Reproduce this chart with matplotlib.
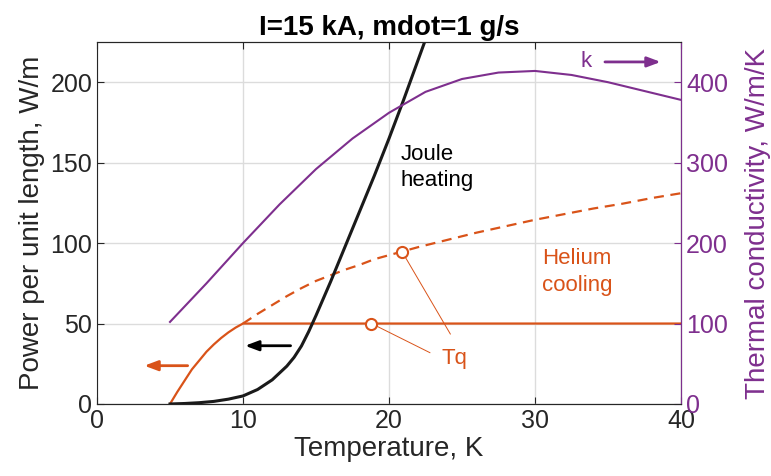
import matplotlib.pyplot as plt

plt.rcParams['font.family'] = ['Liberation Sans', 'DejaVu Sans']

# Joule heating, W/m
joule_T = [5, 6, 7, 8, 9, 10, 11, 12, 13, 13.5, 14, 14.5, 15, 16, 17, 18, 19, 20, 21, 22, 22.4]
joule_P = [0, 0.3, 0.8, 1.6, 3, 5, 9, 15, 23.5, 29, 36, 45, 55, 76, 98, 120, 142, 165, 189, 214, 224]

# helium cooling below Tq (solid) and the uncapped part (dashed)
cool_T = [5, 5.5, 6, 6.5, 7, 7.5, 8, 8.5, 9, 9.5, 10, 40]
cool_P = [0, 7.5, 14.5, 21.5, 27, 32.5, 37, 41, 44.5, 47.5, 50, 50]
dash_T = [10, 11, 12, 13, 14, 15, 16, 17, 18, 19, 20, 21, 22, 24, 26, 28, 30, 32, 34, 36, 38, 40]
dash_P = [50, 56, 61.5, 67, 72, 76.5, 80, 83.5, 86.5, 90, 92.5, 95, 97.5, 102, 106.5, 110.5,
          114.5, 118, 121.5, 124.5, 128, 131]

# thermal conductivity, W/m/K
k_T = [5, 7.5, 10, 12.5, 15, 17.5, 20, 22.5, 25, 27.5, 30, 32.5, 35, 37.5, 40]
k_val = [102, 150, 200, 248, 292, 330, 362, 388, 404, 412, 414, 409, 400, 389, 378]

# Tq points
tq_T = [18.8, 20.9]
tq_P = [50, 94.6]

orange = '#D95319'
purple = '#7E2F8E'
dark = '#262626'

fig = plt.figure(figsize=(7.71, 4.76), dpi=100)
ax = fig.add_axes([0.1258, 0.1513, 0.7575, 0.7605])
ax2 = ax.twinx()

ax.grid(color='#dcdcdc', linewidth=1)
ax.set_axisbelow(True)

ax.plot(cool_T, cool_P, color=orange, linewidth=1.6)
ax.plot(dash_T, dash_P, color=orange, linewidth=1.6, linestyle=(0, (4.5, 3)))
ax.plot(joule_T, joule_P, color='#1a1a1a', linewidth=2.2)
ax2.plot(k_T, k_val, color=purple, linewidth=1.5)

# Tq markers and leader lines
ax.plot([tq_T[0], 22.8], [tq_P[0], 31.9], color=orange, linewidth=0.7)
ax.plot([tq_T[1], 24.2], [tq_P[1], 43.5], color=orange, linewidth=0.7)
ax.plot(tq_T, tq_P, 'o', markersize=8, markerfacecolor='white',
        markeredgecolor=orange, markeredgewidth=1.5, linestyle='none')
ax.text(24.5, 28.4, 'Tq', color=orange, fontsize=16, ha='center', va='center')

ax.text(20.8, 147, 'Joule\nheating', color='black', fontsize=16, ha='left', va='center',
        linespacing=1.35)
ax.text(30.5, 82, 'Helium\ncooling', color=orange, fontsize=16, ha='left', va='center',
        linespacing=1.35)
ax.text(33.1, 212.6, 'k', color=purple, fontsize=16, ha='left', va='center')

# arrows
ax.annotate('', xy=(38.8, 212.6), xytext=(34.6, 212.6),
            arrowprops=dict(arrowstyle='-|>,head_length=0.8,head_width=0.3', color=purple, lw=2))
ax.annotate('', xy=(9.95, 36.2), xytext=(13.45, 36.2),
            arrowprops=dict(arrowstyle='-|>,head_length=0.8,head_width=0.3', color='black', lw=2))
ax.annotate('', xy=(3.05, 23.8), xytext=(6.4, 23.8),
            arrowprops=dict(arrowstyle='-|>,head_length=0.8,head_width=0.3', color=orange, lw=2))

ax.set_xlim(0, 40)
ax.set_ylim(0, 225)
ax2.set_ylim(0, 450)
ax.set_xticks([0, 10, 20, 30, 40])
ax.set_yticks([0, 50, 100, 150, 200])
ax2.set_yticks([0, 100, 200, 300, 400])

ax.tick_params(axis='both', direction='in', labelsize=18, colors=dark, length=5, top=True)
ax2.tick_params(axis='y', direction='in', labelsize=18, colors=purple, length=5)
for s in ['left', 'bottom', 'top']:
    ax.spines[s].set_color(dark)
ax2.spines['right'].set_color(purple)
ax2.spines['left'].set_visible(False)
ax2.spines['top'].set_color(dark)
ax2.spines['bottom'].set_color(dark)

ax.set_xlabel('Temperature, K', fontsize=20, color=dark, labelpad=2)
ax.set_ylabel('Power per unit length, W/m', fontsize=20, color=dark)
ax2.set_ylabel('Thermal conductivity, W/m/K', fontsize=20, color=purple, labelpad=12)
ax.set_title('I=15 kA, mdot=1 g/s', fontsize=20, fontweight='bold', color='black', pad=5)

plt.savefig('out.png', dpi=100)
